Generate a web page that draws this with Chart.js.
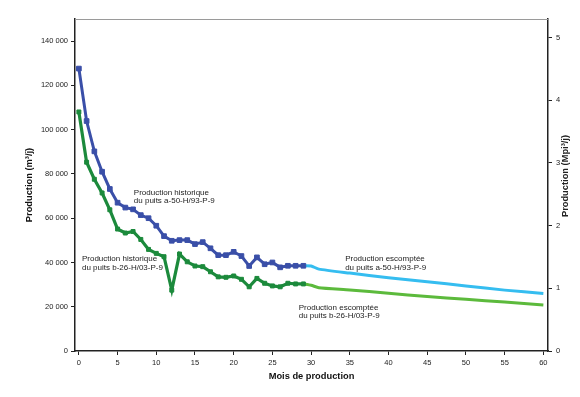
<!DOCTYPE html>
<html>
<head>
<meta charset="utf-8">
<script src="https://cdn.jsdelivr.net/npm/chart.js@4/dist/chart.umd.min.js"></script>
<style>
  html, body { margin: 0; padding: 0; background: #fff; }
</style>
</head>
<body>
<canvas id="prodChart" width="580" height="397"></canvas>
<script>
// --- Data ---
const histMonths = [0, 1, 2, 3, 4, 5, 6, 7, 8, 9, 10, 11, 12, 13, 14, 15, 16, 17, 18, 19, 20, 21, 22, 23, 24, 25, 26, 27, 28, 29];
const histA = [127600, 103900, 90200, 81000, 73200, 67000, 64800, 64000, 61400, 60000, 56600, 51900, 49800, 50100, 50100, 48300, 49200, 46400, 43300, 43300, 44800, 42900, 38400, 42300, 39200, 40000, 37800, 38500, 38500, 38500];
const histB = [108000, 85300, 77600, 71400, 63800, 55100, 53300, 54000, 50400, 45900, 44100, 42600, 27500, 43800, 40300, 38400, 38100, 35800, 33500, 33300, 33900, 32400, 29000, 32800, 30600, 29400, 29000, 30600, 30300, 30300];
const forecastMonths = [29, 30, 31, 35, 40, 45, 50, 55, 60];
const forecastA = [38500, 38400, 37000, 35200, 33100, 31300, 29400, 27500, 26000];
const forecastB = [30300, 29700, 28600, 27600, 26100, 24600, 23400, 22100, 20800];

// tick labels
const monthTicks = [0, 5, 10, 15, 20, 25, 30, 35, 40, 45, 50, 55, 60];
const m3Ticks = [0, 20000, 40000, 60000, 80000, 100000, 120000, 140000];
const mpi3Ticks = [0, 1, 2, 3, 4, 5];

const M3_TO_MPI3 = 35.3147 / 1e6;
const Y_MAX = 150000;
const FONT = '"Liberation Sans", Arial, sans-serif';

function pts(xs, ys) {
  return xs.map(function (x, i) { return { x: x, y: ys[i] }; });
}
function thousands(v) {
  return String(v).replace(/\B(?=(\d{3})+(?!\d))/g, " ");
}
function fixedTicks(list) {
  return function (s) {
    s.ticks = list.map(function (v) { return { value: v }; });
  };
}

// text notes placed in data units
const notes = [
  { lines: ["Production historique", "du puits a-50-H/93-P-9"], x: 7.1, y: 71500 },
  { lines: ["Production historique", "du puits b-26-H/03-P-9"], x: 0.4, y: 41600 },
  { lines: ["Production escomptée", "du puits a-50-H/93-P-9"], x: 34.4, y: 41600 },
  { lines: ["Production escomptée", "du puits b-26-H/03-P-9"], x: 28.4, y: 19700 },
];

const extras = {
  id: "extras",
  afterDraw: function (chart) {
    const ctx = chart.ctx;
    const a = chart.chartArea;
    const xs = chart.scales.x, ys = chart.scales.y;
    ctx.save();
    // top frame line
    ctx.strokeStyle = "#9a9a9a";
    ctx.lineWidth = 1;
    ctx.beginPath();
    ctx.moveTo(a.left, a.top + 0.5);
    ctx.lineTo(a.right, a.top + 0.5);
    ctx.stroke();
    // notes
    ctx.fillStyle = "#222";
    ctx.font = "8px " + FONT;
    ctx.textAlign = "left";
    ctx.textBaseline = "middle";
    notes.forEach(function (n) {
      const px = xs.getPixelForValue(n.x);
      const py = ys.getPixelForValue(n.y);
      n.lines.forEach(function (t, i) {
        ctx.fillText(t, px, py + i * 8.5);
      });
    });
    // right axis title (reads bottom to top)
    ctx.font = "bold 9.3px " + FONT;
    ctx.textAlign = "center";
    ctx.translate(565, 176);
    ctx.rotate(-Math.PI / 2);
    ctx.fillText("Production (Mpi³/j)", 0, 0);
    ctx.restore();
  },
};

const tickFont = { family: FONT, size: 7.5 };
const titleFont = { family: FONT, size: 9.3, weight: "bold" };
const axisGrid = { display: true, drawOnChartArea: false, drawTicks: true, tickLength: 4, color: "#222" };
const axisBorder = { display: true, color: "#222", width: 1.5 };

new Chart(document.getElementById("prodChart"), {
  type: "line",
  data: {
    datasets: [
      {
        label: "Production historique a-50-H/93-P-9",
        data: pts(histMonths, histA),
        borderColor: "#3a4fa8",
        backgroundColor: "#3a4fa8",
        borderWidth: 3,
        pointStyle: "rect",
        pointRadius: 3.3,
        pointBorderWidth: 1,
        tension: 0,
      },
      {
        label: "Production historique b-26-H/03-P-9",
        data: pts(histMonths, histB),
        borderColor: "#1c8a3c",
        backgroundColor: "#1c8a3c",
        borderWidth: 3.2,
        pointStyle: "rect",
        pointRadius: 2.8,
        pointBorderWidth: 1,
        tension: 0,
      },
      {
        label: "Production escomptée a-50-H/93-P-9",
        data: pts(forecastMonths, forecastA),
        borderColor: "#35bdf0",
        borderWidth: 3,
        pointRadius: 0,
        tension: 0.2,
      },
      {
        label: "Production escomptée b-26-H/03-P-9",
        data: pts(forecastMonths, forecastB),
        borderColor: "#5cba3c",
        borderWidth: 3,
        pointRadius: 0,
        tension: 0.2,
      },
    ],
  },
  options: {
    responsive: false,
    animation: false,
    layout: { padding: { left: 0, right: 0, top: 19, bottom: 0 } },
    plugins: { legend: { display: false }, tooltip: { enabled: true } },
    scales: {
      x: {
        type: "linear",
        min: -0.5,
        max: 60.6,
        ticks: { font: tickFont, color: "#222", padding: 3, maxRotation: 0, autoSkip: false },
        afterBuildTicks: fixedTicks(monthTicks),
        afterFit: function (s) { s.height = 46; },
        grid: axisGrid,
        border: axisBorder,
        title: { display: true, text: "Mois de production", font: titleFont, color: "#111", padding: { top: 0, bottom: 15 } },
      },
      y: {
        position: "left",
        min: 0,
        max: Y_MAX,
        ticks: { font: tickFont, color: "#222", padding: 3, autoSkip: false, callback: function (v) { return thousands(v); } },
        afterBuildTicks: fixedTicks(m3Ticks),
        afterFit: function (s) { s.width = 75; },
        grid: axisGrid,
        border: axisBorder,
        title: { display: true, text: "Production (m³/j)", font: titleFont, color: "#111", padding: { top: 24, bottom: 0 } },
      },
      y1: {
        position: "right",
        min: 0,
        max: Y_MAX * M3_TO_MPI3,
        ticks: { font: tickFont, color: "#222", padding: 4, autoSkip: false },
        afterBuildTicks: fixedTicks(mpi3Ticks),
        afterFit: function (s) { s.width = 32; },
        grid: axisGrid,
        border: axisBorder,
      },
    },
  },
  plugins: [extras],
});
</script>
</body>
</html>
